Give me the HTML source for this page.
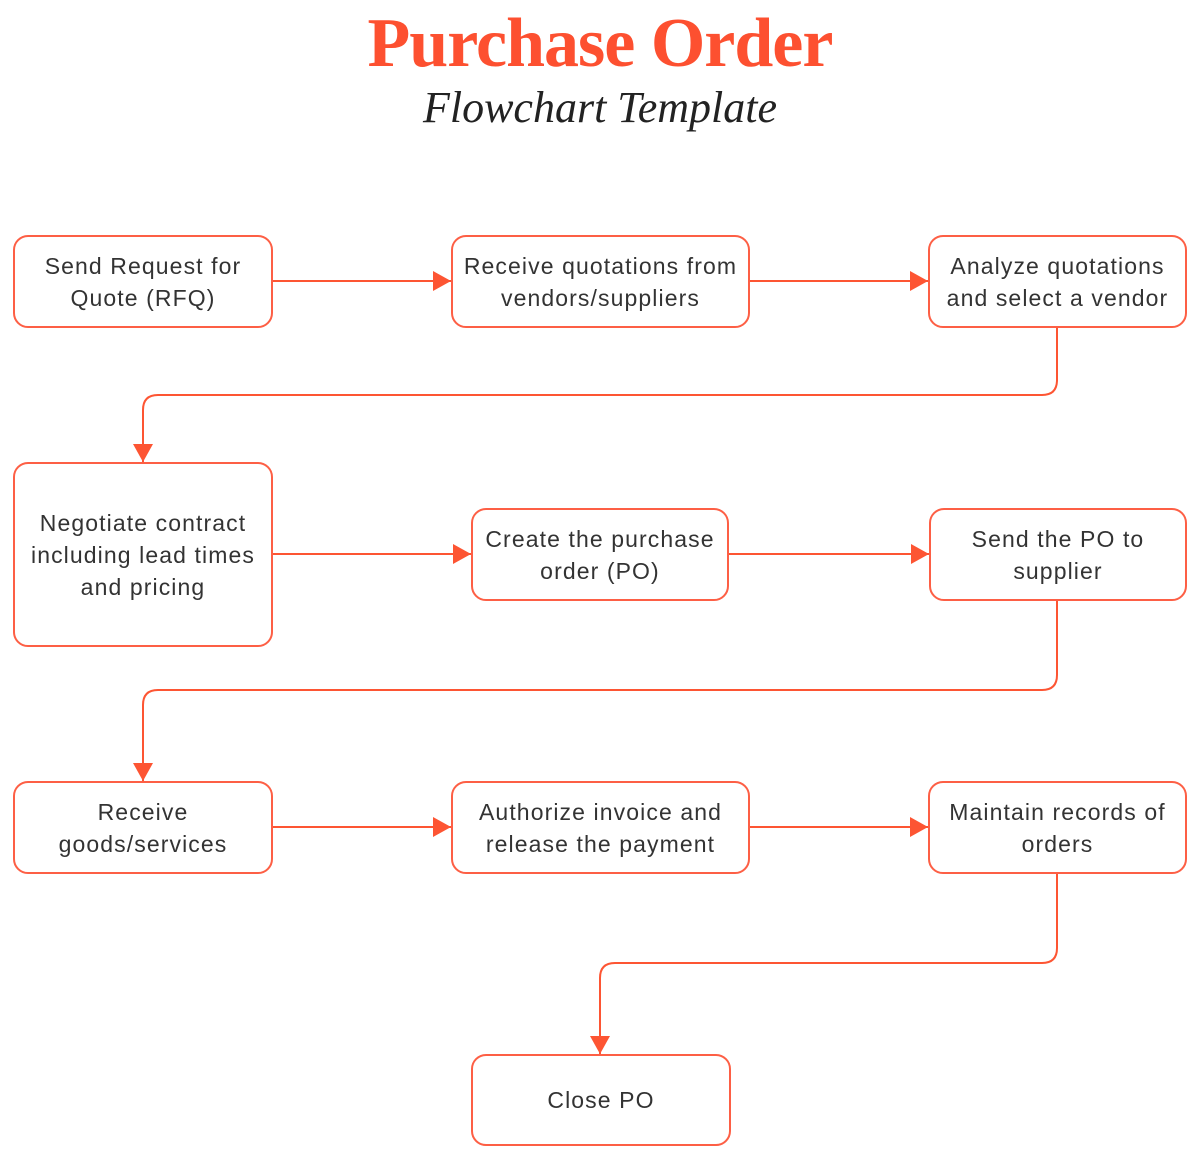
<!DOCTYPE html>
<html><head><meta charset="utf-8"><style>
body{margin:0;background:#fff;width:1200px;height:1159px;position:relative;overflow:hidden}
.t{position:absolute;left:0;width:1200px;text-align:center}
.b{position:absolute;box-sizing:border-box;border:2px solid #fd5f45;border-radius:15px;display:flex;align-items:center;justify-content:center;text-align:center;font-family:"Liberation Sans",sans-serif;font-size:23px;line-height:32px;color:#333;letter-spacing:1.1px}
</style></head><body>
<div class="t" style="top:4px;font-family:'Liberation Serif',serif;font-weight:bold;font-size:70px;color:#fd5030;letter-spacing:-1px">Purchase Order</div>
<div class="t" style="top:82px;font-family:'Liberation Serif',serif;font-style:italic;font-size:44px;color:#222">Flowchart Template</div>
<svg width="1200" height="1159" style="position:absolute;left:0;top:0" fill="none" stroke="#fd5533" stroke-width="2">
<defs><marker id="a" markerWidth="18" markerHeight="20" refX="18" refY="10" orient="auto" markerUnits="userSpaceOnUse" viewBox="0 0 18 20"><path d="M0,0L18,10L0,20z" fill="#fd5533" stroke="none"/></marker></defs>
<g marker-end="url(#a)">
<path d="M273 281H451"/><path d="M750 281H928"/>
<path d="M1057 328V380Q1057 395 1042 395H158Q143 395 143 410V462"/>
<path d="M273 554H471"/><path d="M729 554H929"/>
<path d="M1057 601V675Q1057 690 1042 690H158Q143 690 143 705V781"/>
<path d="M273 827H451"/><path d="M750 827H928"/>
<path d="M1057 874V948Q1057 963 1042 963H615Q600 963 600 978V1054"/>
</g></svg>
<div class="b" style="left:13px;top:235px;width:260px;height:93px">Send Request for<br>Quote (RFQ)</div>
<div class="b" style="left:451px;top:235px;width:299px;height:93px">Receive quotations from<br>vendors/suppliers</div>
<div class="b" style="left:928px;top:235px;width:259px;height:93px">Analyze quotations<br>and select a vendor</div>
<div class="b" style="left:13px;top:462px;width:260px;height:185px">Negotiate contract<br>including lead times<br>and pricing</div>
<div class="b" style="left:471px;top:508px;width:258px;height:93px">Create the purchase<br>order (PO)</div>
<div class="b" style="left:929px;top:508px;width:258px;height:93px">Send the PO to<br>supplier</div>
<div class="b" style="left:13px;top:781px;width:260px;height:93px">Receive<br>goods/services</div>
<div class="b" style="left:451px;top:781px;width:299px;height:93px">Authorize invoice and<br>release the payment</div>
<div class="b" style="left:928px;top:781px;width:259px;height:93px">Maintain records of<br>orders</div>
<div class="b" style="left:471px;top:1054px;width:260px;height:92px">Close PO</div>
</body></html>
